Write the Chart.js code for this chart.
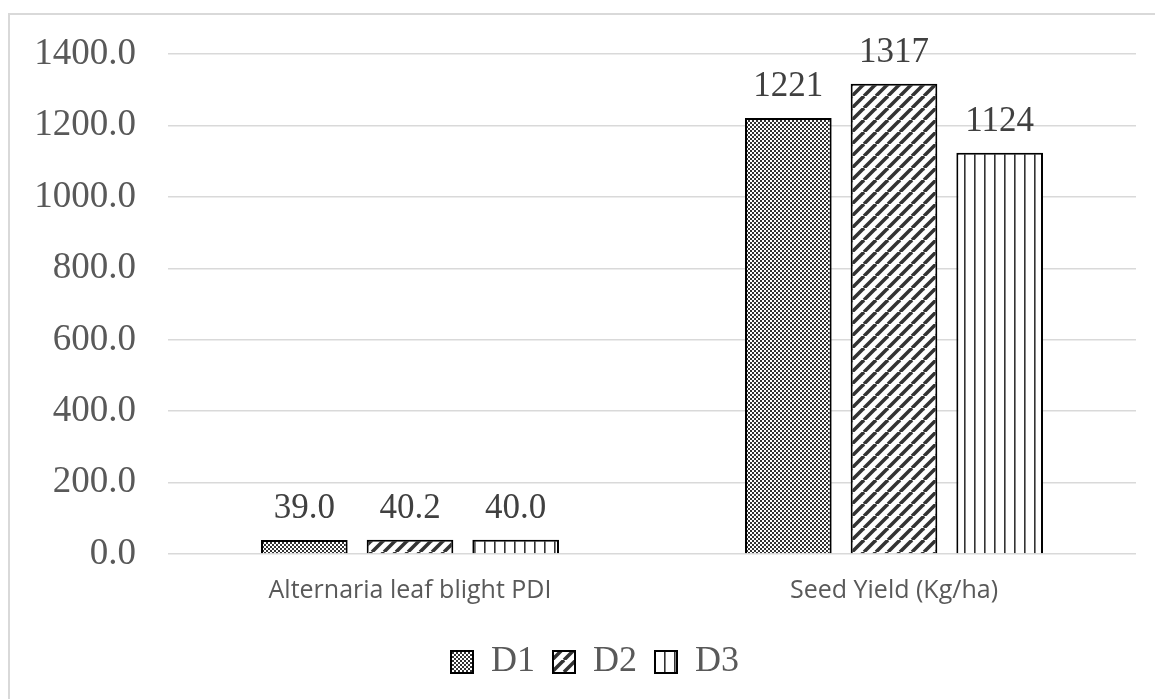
<!DOCTYPE html>
<html lang="en">
<head>
    <meta charset="UTF-8">
    <title>Alternaria leaf blight PDI and seed yield</title>
    <script src="https://cdn.jsdelivr.net/npm/chart.js"></script>
    <style>
        body { margin: 0; background: #fff; }
        #chart { display: block; }
    </style>
</head>
<body>
    <canvas id="chart" width="1155" height="699"></canvas>
    <script>
        // chart data
        const categories = ['Alternaria leaf blight PDI', 'Seed Yield (Kg/ha)'];
        const seriesNames = ['D1', 'D2', 'D3'];
        const d1Values = [39.0, 1221];
        const d2Values = [40.2, 1317];
        const d3Values = [40.0, 1124];
        // text printed above each bar
        const d1Labels = ['39.0', '1221'];
        const d2Labels = ['40.2', '1317'];
        const d3Labels = ['40.0', '1124'];

        const ink = '#333';

        // hatch fills, like the Excel pattern fills
        function makePattern(w, h, paint) {
            const c = document.createElement('canvas');
            c.width = w;
            c.height = h;
            const g = c.getContext('2d');
            g.fillStyle = '#fff';
            g.fillRect(0, 0, w, h);
            paint(g);
            return g.createPattern(c, 'repeat');
        }
        const ctx = document.getElementById('chart').getContext('2d');

        const checker = makePattern(4, 4, g => {
            g.fillStyle = ink;
            g.fillRect(0, 0, 2, 2);
            g.fillRect(2, 2, 2, 2);
        });
        const diagonal = makePattern(12, 12, g => {
            g.strokeStyle = ink;
            g.lineWidth = 3.5;
            for (let k = -12; k <= 24; k += 12) {
                g.beginPath();
                g.moveTo(k, 12);
                g.lineTo(k + 12, 0);
                g.stroke();
            }
        });
        const vertical = makePattern(10, 4, g => {
            g.fillStyle = ink;
            g.fillRect(4, 0, 1.6, 4);
        });

        // outer frame of the chart box
        const framePlugin = {
            id: 'frame',
            beforeDraw(chart) {
                const c = chart.ctx;
                c.save();
                c.fillStyle = '#fff';
                c.fillRect(0, 0, chart.width, chart.height);
                c.strokeStyle = '#d9d9d9';
                c.lineWidth = 2;
                c.strokeRect(9, 14, chart.width + 20, chart.height + 20);
                c.restore();
            }
        };

        // legend sits a little right of centre in the original
        const legendShift = {
            id: 'legendShift',
            afterLayout(chart) {
                chart.legend.left += 27;
                chart.legend.right += 27;
            }
        };

        // value labels above the bars
        const valueLabels = [d1Labels, d2Labels, d3Labels];
        const labelPlugin = {
            id: 'valueLabels',
            afterDatasetsDraw(chart) {
                const c = chart.ctx;
                c.save();
                c.font = '35px "Liberation Serif"';
                c.fillStyle = '#404040';
                c.textAlign = 'center';
                c.textBaseline = 'alphabetic';
                chart.data.datasets.forEach((ds, i) => {
                    chart.getDatasetMeta(i).data.forEach((bar, j) => {
                        c.fillText(valueLabels[i][j], bar.x, bar.y - 22);
                    });
                });
                c.restore();
            }
        };

        new Chart(ctx, {
            type: 'bar',
            data: {
                labels: categories,
                datasets: [
                    { label: seriesNames[0], data: d1Values, backgroundColor: checker },
                    { label: seriesNames[1], data: d2Values, backgroundColor: diagonal },
                    { label: seriesNames[2], data: d3Values, backgroundColor: vertical }
                ].map(ds => Object.assign(ds, {
                    borderColor: '#000',
                    borderWidth: 2,
                    barPercentage: 0.82,
                    categoryPercentage: 0.655
                }))
            },
            options: {
                responsive: false,
                animation: false,
                devicePixelRatio: 1,
                layout: { padding: { left: 0, right: 19, top: 45, bottom: 9 } },
                scales: {
                    y: {
                        min: 0,
                        max: 1400,
                        border: { display: false },
                        grid: { color: '#d9d9d9', lineWidth: 1.5, drawTicks: false },
                        ticks: {
                            stepSize: 200,
                            padding: 32,
                            color: '#595959',
                            font: { family: 'Liberation Serif', size: 37 },
                            callback: v => v.toFixed(1)
                        },
                        afterFit(scale) { scale.width = 168; }
                    },
                    x: {
                        border: { display: false },
                        grid: { display: false, drawTicks: false },
                        ticks: {
                            padding: 22,
                            color: '#595959',
                            font: { family: 'Open Sans', size: 25 }
                        },
                        afterFit(scale) { scale.height = 72; }
                    }
                },
                plugins: {
                    legend: {
                        position: 'bottom',
                        labels: {
                            boxWidth: 22,
                            boxHeight: 22,
                            padding: 18,
                            color: '#595959',
                            font: { family: 'Liberation Serif', size: 36 }
                        }
                    },
                    tooltip: { enabled: false }
                }
            },
            plugins: [framePlugin, legendShift, labelPlugin]
        });
    </script>
</body>
</html>
